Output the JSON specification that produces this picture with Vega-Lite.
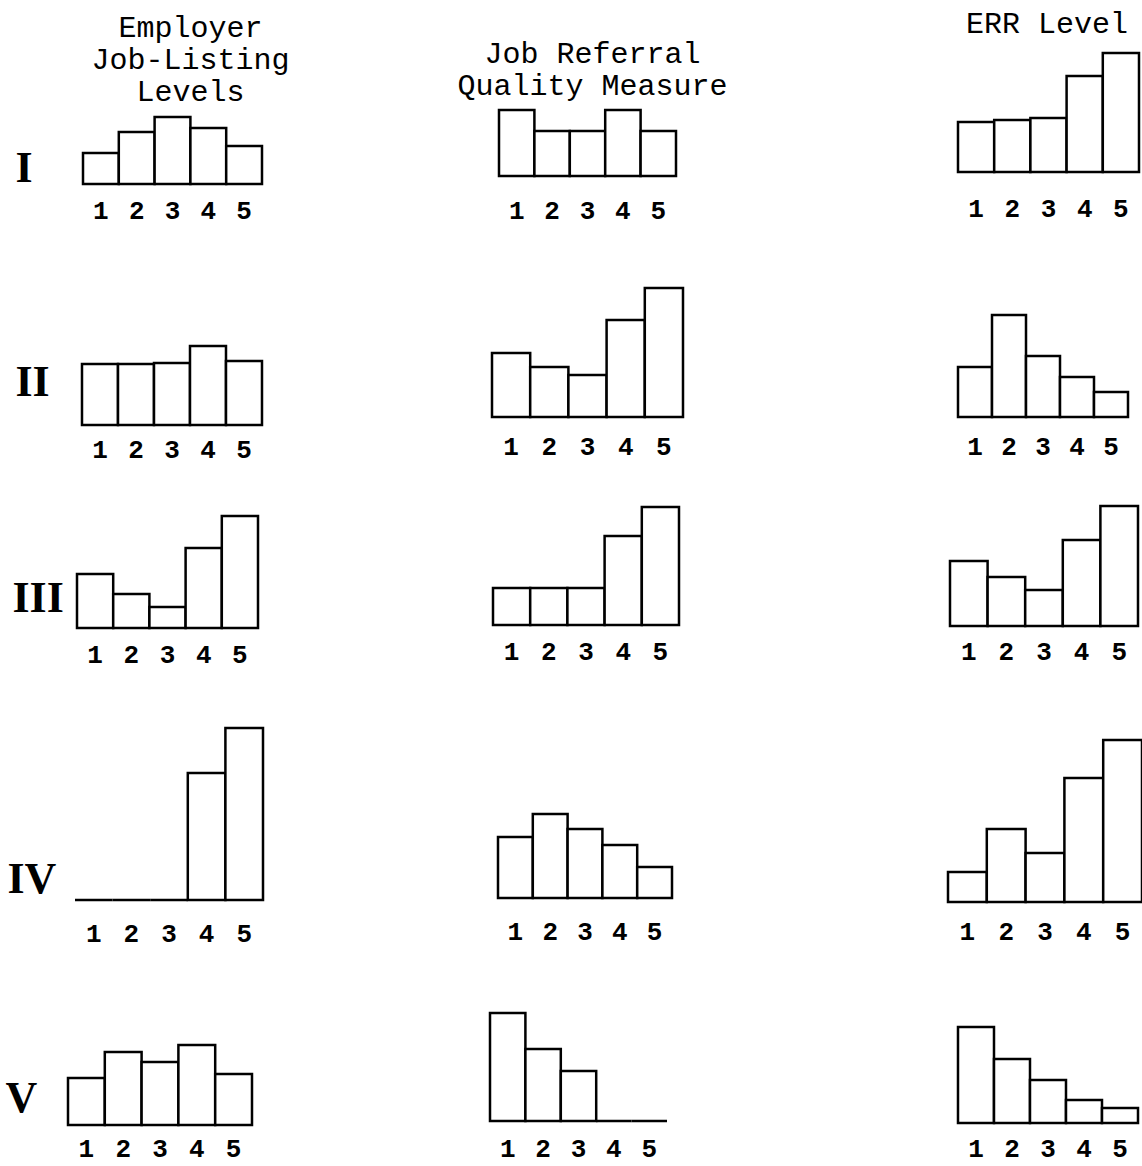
{
  "$schema": "https://vega.github.io/schema/vega-lite/v6.json",
  "background": "white",
  "padding": {"left": 5, "top": 9, "right": 0, "bottom": 4},
  "autosize": {"type": "pad"},
  "data": {"values": [
    {"row": "I", "measure": "Job-Listing", "level": "1", "value": 31},
    {"row": "I", "measure": "Job-Listing", "level": "2", "value": 52},
    {"row": "I", "measure": "Job-Listing", "level": "3", "value": 67},
    {"row": "I", "measure": "Job-Listing", "level": "4", "value": 56},
    {"row": "I", "measure": "Job-Listing", "level": "5", "value": 38},
    {"row": "I", "measure": "Job Referral", "level": "1", "value": 66},
    {"row": "I", "measure": "Job Referral", "level": "2", "value": 45},
    {"row": "I", "measure": "Job Referral", "level": "3", "value": 45},
    {"row": "I", "measure": "Job Referral", "level": "4", "value": 66},
    {"row": "I", "measure": "Job Referral", "level": "5", "value": 45},
    {"row": "I", "measure": "ERR", "level": "1", "value": 50},
    {"row": "I", "measure": "ERR", "level": "2", "value": 52},
    {"row": "I", "measure": "ERR", "level": "3", "value": 54},
    {"row": "I", "measure": "ERR", "level": "4", "value": 96},
    {"row": "I", "measure": "ERR", "level": "5", "value": 119},
    {"row": "II", "measure": "Job-Listing", "level": "1", "value": 61},
    {"row": "II", "measure": "Job-Listing", "level": "2", "value": 61},
    {"row": "II", "measure": "Job-Listing", "level": "3", "value": 62},
    {"row": "II", "measure": "Job-Listing", "level": "4", "value": 79},
    {"row": "II", "measure": "Job-Listing", "level": "5", "value": 64},
    {"row": "II", "measure": "Job Referral", "level": "1", "value": 64},
    {"row": "II", "measure": "Job Referral", "level": "2", "value": 50},
    {"row": "II", "measure": "Job Referral", "level": "3", "value": 42},
    {"row": "II", "measure": "Job Referral", "level": "4", "value": 97},
    {"row": "II", "measure": "Job Referral", "level": "5", "value": 129},
    {"row": "II", "measure": "ERR", "level": "1", "value": 50},
    {"row": "II", "measure": "ERR", "level": "2", "value": 102},
    {"row": "II", "measure": "ERR", "level": "3", "value": 61},
    {"row": "II", "measure": "ERR", "level": "4", "value": 40},
    {"row": "II", "measure": "ERR", "level": "5", "value": 25},
    {"row": "III", "measure": "Job-Listing", "level": "1", "value": 54},
    {"row": "III", "measure": "Job-Listing", "level": "2", "value": 34},
    {"row": "III", "measure": "Job-Listing", "level": "3", "value": 21},
    {"row": "III", "measure": "Job-Listing", "level": "4", "value": 80},
    {"row": "III", "measure": "Job-Listing", "level": "5", "value": 112},
    {"row": "III", "measure": "Job Referral", "level": "1", "value": 37},
    {"row": "III", "measure": "Job Referral", "level": "2", "value": 37},
    {"row": "III", "measure": "Job Referral", "level": "3", "value": 37},
    {"row": "III", "measure": "Job Referral", "level": "4", "value": 89},
    {"row": "III", "measure": "Job Referral", "level": "5", "value": 118},
    {"row": "III", "measure": "ERR", "level": "1", "value": 65},
    {"row": "III", "measure": "ERR", "level": "2", "value": 49},
    {"row": "III", "measure": "ERR", "level": "3", "value": 36},
    {"row": "III", "measure": "ERR", "level": "4", "value": 86},
    {"row": "III", "measure": "ERR", "level": "5", "value": 120},
    {"row": "IV", "measure": "Job-Listing", "level": "1", "value": 0},
    {"row": "IV", "measure": "Job-Listing", "level": "2", "value": 0},
    {"row": "IV", "measure": "Job-Listing", "level": "3", "value": 0},
    {"row": "IV", "measure": "Job-Listing", "level": "4", "value": 127},
    {"row": "IV", "measure": "Job-Listing", "level": "5", "value": 172},
    {"row": "IV", "measure": "Job Referral", "level": "1", "value": 61},
    {"row": "IV", "measure": "Job Referral", "level": "2", "value": 84},
    {"row": "IV", "measure": "Job Referral", "level": "3", "value": 69},
    {"row": "IV", "measure": "Job Referral", "level": "4", "value": 53},
    {"row": "IV", "measure": "Job Referral", "level": "5", "value": 31},
    {"row": "IV", "measure": "ERR", "level": "1", "value": 30},
    {"row": "IV", "measure": "ERR", "level": "2", "value": 73},
    {"row": "IV", "measure": "ERR", "level": "3", "value": 49},
    {"row": "IV", "measure": "ERR", "level": "4", "value": 124},
    {"row": "IV", "measure": "ERR", "level": "5", "value": 162},
    {"row": "V", "measure": "Job-Listing", "level": "1", "value": 47},
    {"row": "V", "measure": "Job-Listing", "level": "2", "value": 73},
    {"row": "V", "measure": "Job-Listing", "level": "3", "value": 63},
    {"row": "V", "measure": "Job-Listing", "level": "4", "value": 80},
    {"row": "V", "measure": "Job-Listing", "level": "5", "value": 51},
    {"row": "V", "measure": "Job Referral", "level": "1", "value": 108},
    {"row": "V", "measure": "Job Referral", "level": "2", "value": 72},
    {"row": "V", "measure": "Job Referral", "level": "3", "value": 50},
    {"row": "V", "measure": "Job Referral", "level": "4", "value": 0},
    {"row": "V", "measure": "Job Referral", "level": "5", "value": 0},
    {"row": "V", "measure": "ERR", "level": "1", "value": 96},
    {"row": "V", "measure": "ERR", "level": "2", "value": 64},
    {"row": "V", "measure": "ERR", "level": "3", "value": 43},
    {"row": "V", "measure": "ERR", "level": "4", "value": 23},
    {"row": "V", "measure": "ERR", "level": "5", "value": 15}
  ]},
  "columns": 3,
  "spacing": {"row": 70, "column": 227},
  "bounds": "flush",
  "align": "each",
  "resolve": {"scale": {"x": "independent", "y": "independent"}},
  "concat": [
    {
      "width": 195, "height": 133,
      "title": {"text": ["Employer", "Job-Listing", "Levels"], "dx": 25, "offset": -56},
      "transform": [{"filter": "datum.row === 'I' && datum.measure === 'Job-Listing'"}],
      "mark": {"type": "bar", "fill": "white", "stroke": "black", "strokeWidth": 2.5},
      "encoding": {
        "x": {"field": "level", "type": "ordinal", "scale": {"domain": ["1","2","3","4","5"], "paddingInner": 0, "paddingOuter": 0.2235, "align": 0.9375}, "axis": {"title": null, "labelPadding": 26}},
        "y": {"field": "value", "type": "quantitative", "scale": {"domain": [0, 133], "nice": false}, "axis": {"title": "I", "titleX": -53, "titleY": 117, "labels": false, "ticks": false, "domain": false, "grid": false}}
      }
    },
    {
      "width": 231, "height": 125,
      "title": {"text": ["Job Referral", "Quality Measure"], "dx": -13, "offset": -50},
      "transform": [{"filter": "datum.row === 'I' && datum.measure === 'Job Referral'"}],
      "mark": {"type": "bar", "fill": "white", "stroke": "black", "strokeWidth": 2.5},
      "encoding": {
        "x": {"field": "level", "type": "ordinal", "scale": {"domain": ["1","2","3","4","5"], "paddingInner": 0, "paddingOuter": 0.7627, "align": 0.1667}, "axis": {"title": null, "labelPadding": 34}},
        "y": {"field": "value", "type": "quantitative", "scale": {"domain": [0, 125], "nice": false}, "axis": null}
      }
    },
    {
      "width": 194, "height": 121,
      "title": {"text": "ERR Level", "dx": 2, "offset": 12},
      "transform": [{"filter": "datum.row === 'I' && datum.measure === 'ERR'"}],
      "mark": {"type": "bar", "fill": "white", "stroke": "black", "strokeWidth": 2.5},
      "encoding": {
        "x": {"field": "level", "type": "ordinal", "scale": {"domain": ["1","2","3","4","5"], "paddingInner": 0, "paddingOuter": 0.1796, "align": 0.769}, "axis": {"title": null, "labelPadding": 36}},
        "y": {"field": "value", "type": "quantitative", "scale": {"domain": [0, 121], "nice": false}, "axis": null}
      }
    },
    {
      "width": 195, "height": 171,
      "transform": [{"filter": "datum.row === 'II' && datum.measure === 'Job-Listing'"}],
      "mark": {"type": "bar", "fill": "white", "stroke": "black", "strokeWidth": 2.5},
      "encoding": {
        "x": {"field": "level", "type": "ordinal", "scale": {"domain": ["1","2","3","4","5"], "paddingInner": 0, "paddingOuter": 0.2083, "align": 0.933}, "axis": {"title": null, "labelPadding": 24}},
        "y": {"field": "value", "type": "quantitative", "scale": {"domain": [0, 171], "nice": false}, "axis": {"title": "II", "titleX": -53, "titleY": 128, "labels": false, "ticks": false, "domain": false, "grid": false}}
      }
    },
    {
      "width": 231, "height": 163,
      "transform": [{"filter": "datum.row === 'II' && datum.measure === 'Job Referral'"}],
      "mark": {"type": "bar", "fill": "white", "stroke": "black", "strokeWidth": 2.5},
      "encoding": {
        "x": {"field": "level", "type": "ordinal", "scale": {"domain": ["1","2","3","4","5"], "paddingInner": 0, "paddingOuter": 0.5236, "align": 0.05}, "axis": {"title": null, "labelPadding": 29}},
        "y": {"field": "value", "type": "quantitative", "scale": {"domain": [0, 163], "nice": false}, "axis": null}
      }
    },
    {
      "width": 194, "height": 163,
      "transform": [{"filter": "datum.row === 'II' && datum.measure === 'ERR'"}],
      "mark": {"type": "bar", "fill": "white", "stroke": "black", "strokeWidth": 2.5},
      "encoding": {
        "x": {"field": "level", "type": "ordinal", "scale": {"domain": ["1","2","3","4","5"], "paddingInner": 0, "paddingOuter": 0.353, "align": 0.4167}, "axis": {"title": null, "labelPadding": 29}},
        "y": {"field": "value", "type": "quantitative", "scale": {"domain": [0, 163], "nice": false}, "axis": null}
      }
    },
    {
      "width": 195, "height": 133,
      "transform": [{"filter": "datum.row === 'III' && datum.measure === 'Job-Listing'"}],
      "mark": {"type": "bar", "fill": "white", "stroke": "black", "strokeWidth": 2.5},
      "encoding": {
        "x": {"field": "level", "type": "ordinal", "scale": {"domain": ["1","2","3","4","5"], "paddingInner": 0, "paddingOuter": 0.1934, "align": 0.643}, "axis": {"title": null, "labelPadding": 26}},
        "y": {"field": "value", "type": "quantitative", "scale": {"domain": [0, 133], "nice": false}, "axis": {"title": "III", "titleX": -56, "titleY": 103, "labels": false, "ticks": false, "domain": false, "grid": false}}
      }
    },
    {
      "width": 231, "height": 130,
      "transform": [{"filter": "datum.row === 'III' && datum.measure === 'Job Referral'"}],
      "mark": {"type": "bar", "fill": "white", "stroke": "black", "strokeWidth": 2.5},
      "encoding": {
        "x": {"field": "level", "type": "ordinal", "scale": {"domain": ["1","2","3","4","5"], "paddingInner": 0, "paddingOuter": 0.6048, "align": 0.0667}, "axis": {"title": null, "labelPadding": 26}},
        "y": {"field": "value", "type": "quantitative", "scale": {"domain": [0, 130], "nice": false}, "axis": null}
      }
    },
    {
      "width": 194, "height": 131,
      "transform": [{"filter": "datum.row === 'III' && datum.measure === 'ERR'"}],
      "mark": {"type": "bar", "fill": "white", "stroke": "black", "strokeWidth": 2.5},
      "encoding": {
        "x": {"field": "level", "type": "ordinal", "scale": {"domain": ["1","2","3","4","5"], "paddingInner": 0, "paddingOuter": 0.0798, "align": 0.333}, "axis": {"title": null, "labelPadding": 25}},
        "y": {"field": "value", "type": "quantitative", "scale": {"domain": [0, 131], "nice": false}, "axis": null}
      }
    },
    {
      "width": 195, "height": 202,
      "transform": [{"filter": "datum.row === 'IV' && datum.measure === 'Job-Listing'"}],
      "mark": {"type": "bar", "fill": "white", "stroke": "black", "strokeWidth": 2.5},
      "encoding": {
        "x": {"field": "level", "type": "ordinal", "scale": {"domain": ["1","2","3","4","5"], "paddingInner": 0, "paddingOuter": 0.0931, "align": 1}, "axis": {"title": null, "labelPadding": 33}},
        "y": {"field": "value", "type": "quantitative", "scale": {"domain": [0, 202], "nice": false}, "axis": {"title": "IV", "titleX": -61, "titleY": 181, "labels": false, "ticks": false, "domain": false, "grid": false}}
      }
    },
    {
      "width": 231, "height": 200,
      "transform": [{"filter": "datum.row === 'IV' && datum.measure === 'Job Referral'"}],
      "mark": {"type": "bar", "fill": "white", "stroke": "black", "strokeWidth": 2.5},
      "encoding": {
        "x": {"field": "level", "type": "ordinal", "scale": {"domain": ["1","2","3","4","5"], "paddingInner": 0, "paddingOuter": 0.819, "align": 0.1404}, "axis": {"title": null, "labelPadding": 33}},
        "y": {"field": "value", "type": "quantitative", "scale": {"domain": [0, 200], "nice": false}, "axis": null}
      }
    },
    {
      "width": 194, "height": 204,
      "transform": [{"filter": "datum.row === 'IV' && datum.measure === 'ERR'"}],
      "mark": {"type": "bar", "fill": "white", "stroke": "black", "strokeWidth": 2.5},
      "encoding": {
        "x": {"field": "level", "type": "ordinal", "scale": {"domain": ["1","2","3","4","5"], "paddingInner": 0, "paddingOuter": 0, "align": 0.5}, "axis": {"title": null, "labelPadding": 29}},
        "y": {"field": "value", "type": "quantitative", "scale": {"domain": [0, 204], "nice": false}, "axis": null}
      }
    },
    {
      "width": 195, "height": 153,
      "transform": [{"filter": "datum.row === 'V' && datum.measure === 'Job-Listing'"}],
      "mark": {"type": "bar", "fill": "white", "stroke": "black", "strokeWidth": 2.5},
      "encoding": {
        "x": {"field": "level", "type": "ordinal", "scale": {"domain": ["1","2","3","4","5"], "paddingInner": 0, "paddingOuter": 0.1495, "align": 0}, "axis": {"title": null, "labelPadding": 23}},
        "y": {"field": "value", "type": "quantitative", "scale": {"domain": [0, 153], "nice": false}, "axis": {"title": "V", "titleX": -63, "titleY": 126, "labels": false, "ticks": false, "domain": false, "grid": false}}
      }
    },
    {
      "width": 231, "height": 149,
      "transform": [{"filter": "datum.row === 'V' && datum.measure === 'Job Referral'"}],
      "mark": {"type": "bar", "fill": "white", "stroke": "black", "strokeWidth": 2.5},
      "encoding": {
        "x": {"field": "level", "type": "ordinal", "scale": {"domain": ["1","2","3","4","5"], "paddingInner": 0, "paddingOuter": 0.7627, "align": 0}, "axis": {"title": null, "labelPadding": 27}},
        "y": {"field": "value", "type": "quantitative", "scale": {"domain": [0, 149], "nice": false}, "axis": null}
      }
    },
    {
      "width": 194, "height": 151,
      "transform": [{"filter": "datum.row === 'V' && datum.measure === 'ERR'"}],
      "mark": {"type": "bar", "fill": "white", "stroke": "black", "strokeWidth": 2.5},
      "encoding": {
        "x": {"field": "level", "type": "ordinal", "scale": {"domain": ["1","2","3","4","5"], "paddingInner": 0, "paddingOuter": 0.1944, "align": 0.714}, "axis": {"title": null, "labelPadding": 25}},
        "y": {"field": "value", "type": "quantitative", "scale": {"domain": [0, 151], "nice": false}, "axis": null}
      }
    }
  ],
  "config": {
    "view": {"stroke": null},
    "title": {"font": "Liberation Mono", "fontSize": 30, "fontWeight": "normal", "color": "black", "anchor": "middle", "lineHeight": 32},
    "axisX": {"domain": false, "ticks": false, "tickSize": 0, "grid": false, "labelAngle": 0, "labelFont": "Liberation Mono", "labelFontSize": 26, "labelFontWeight": "bold", "labelColor": "black", "labelBaseline": "middle"},
    "axisY": {"titleAngle": 0, "titleAlign": "left", "titleBaseline": "middle", "titleFont": "Liberation Serif", "titleFontSize": 44, "titleFontWeight": "bold", "titleColor": "black", "tickSize": 0}
  }
}
